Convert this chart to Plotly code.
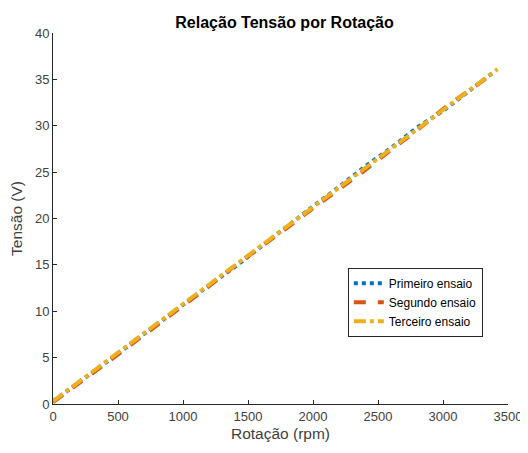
import plotly.graph_objects as go

rpm1 = [0, 200, 400, 600, 800, 1000, 1200, 1400, 1600, 1800, 2000, 2200, 2400, 2600, 2800, 3000, 3200, 3400]
v1 = [0.3, 2.3, 4.4, 6.5, 8.6, 10.8, 12.8, 14.8, 17.0, 19.1, 21.3, 23.4, 25.6, 27.6, 29.8, 31.6, 33.7, 35.9]
rpm2 = [0, 200, 400, 600, 800, 1000, 1200, 1400, 1600, 1800, 2000, 2200, 2400, 2600, 2800, 3000, 3200, 3400]
v2 = [0.2, 2.2, 4.3, 6.4, 8.5, 10.5, 12.7, 14.9, 16.9, 19.0, 21.1, 23.1, 25.2, 27.4, 29.5, 31.8, 33.8, 35.8]
rpm3 = [0, 200, 400, 600, 800, 1000, 1200, 1400, 1600, 1800, 2000, 2200, 2400, 2600, 2800, 3000, 3200, 3420]
v3 = [0.3, 2.4, 4.5, 6.5, 8.6, 10.7, 12.8, 15.0, 17.1, 19.2, 21.3, 23.3, 25.4, 27.6, 29.6, 31.7, 33.9, 36.1]

names = ["Primeiro ensaio", "Segundo ensaio", "Terceiro ensaio"]
colors = ["#0072BD", "#D95319", "#EDB120"]
dashes = ["dot", "dash", "dashdot"]
xtick_vals = [0, 500, 1000, 1500, 2000, 2500, 3000, 3500]
ytick_vals = [0, 5, 10, 15, 20, 25, 30, 35, 40]

fig = go.Figure()
for x, y, n, c, d in zip([rpm1, rpm2, rpm3], [v1, v2, v3], names, colors, dashes):
    fig.add_trace(go.Scatter(x=x, y=y, mode="lines", name=n,
                             line=dict(color=c, width=4, dash=d)))

axis_common = dict(showline=True, linecolor="#262626", linewidth=1, ticks="inside",
                   ticklen=4, tickcolor="#262626", showgrid=False, zeroline=False,
                   tickfont=dict(size=13, color="#404040"), mirror=False,
                   automargin=False)
# page has an 8px body margin, so figure is sized/offset to compensate
W, H = 520, 445
fig.update_layout(
    width=W, height=H,
    margin=dict(l=45, r=20, t=25, b=49),
    paper_bgcolor="white", plot_bgcolor="white",
    font=dict(family="Liberation Sans, Arial, sans-serif", color="#262626"),
    title=dict(text="<b>Relação Tensão por Rotação</b>", x=(284.5 - 8) / W, xanchor="center",
               y=1 - 14 / H, yanchor="middle", font=dict(size=16, color="#000000")),
    xaxis=dict(range=[0, 3500], tickvals=xtick_vals,
               title=dict(text="Rotação (rpm)", font=dict(size=15.5, color="#404040"), standoff=5),
               **axis_common),
    yaxis=dict(range=[0, 40], tickvals=ytick_vals,
               title=dict(text="Tensão (V)", font=dict(size=15.5, color="#404040"), standoff=8),
               **axis_common),
    legend=dict(x=0.648, y=0.367, xanchor="left", yanchor="top",
                bgcolor="white", bordercolor="#262626", borderwidth=1,
                font=dict(size=12, color="#000000"), tracegroupgap=0,
                itemwidth=30),
    showlegend=True,
)
fig.write_html("out.html")
